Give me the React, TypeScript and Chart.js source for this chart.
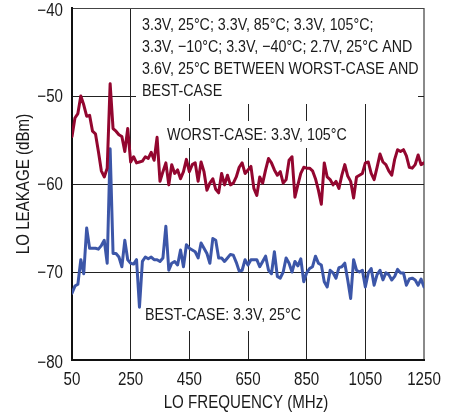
import React, { useEffect, useRef } from "react";
import { Chart, registerables } from "chart.js";

Chart.register(...registerables);

const FREQ_MHZ = [
  50, 60, 70, 80, 90, 100, 110, 120, 130, 140, 150, 160, 170, 180, 190, 200, 210, 220, 230, 240,
  250, 260, 270, 280, 290, 300, 310, 320, 330, 340, 350, 360, 370, 380, 390, 400, 410, 420, 430, 440,
  450, 460, 470, 480, 490, 500, 510, 520, 530, 540, 550, 560, 570, 580, 590, 600, 610, 620, 630, 640,
  650, 660, 670, 680, 690, 700, 710, 720, 730, 740, 750, 760, 770, 780, 790, 800, 810, 820, 830, 840,
  850, 860, 870, 880, 890, 900, 910, 920, 930, 940, 950, 960, 970, 980, 990, 1000, 1010, 1020, 1030, 1040,
  1050, 1060, 1070, 1080, 1090, 1100, 1110, 1120, 1130, 1140, 1150, 1160, 1170, 1180, 1190, 1200, 1210, 1220, 1230, 1240,
  1250,
];

const WORST_CASE_DBM = [
  -54.6, -52.5, -52.0, -50.0, -51.0, -52.3, -52.2, -54.0, -54.3, -56.3, -58.5, -59.2, -58.2, -48.6, -53.7, -54.0, -54.4, -54.6, -56.3, -53.7,
  -57.5, -56.9, -57.6, -57.5, -57.4, -56.9, -57.1, -56.4, -57.3, -54.7, -59.7, -58.6, -57.6, -60.1, -57.8, -58.8, -58.4, -59.4, -58.6, -57.2,
  -58.6, -57.8, -57.6, -59.7, -57.5, -58.6, -60.7, -59.9, -59.4, -60.6, -61.0, -58.8, -60.1, -59.0, -60.1, -59.9, -59.2, -58.1, -57.6, -58.8,
  -58.4, -58.0, -60.5, -61.3, -59.2, -59.9, -58.4, -57.1, -57.6, -58.4, -59.0, -58.6, -59.9, -59.5, -57.3, -56.9, -61.5, -60.1, -58.8, -58.1,
  -58.2, -58.2, -58.5, -59.4, -60.7, -62.3, -57.6, -59.2, -59.5, -60.1, -59.7, -60.5, -59.0, -57.8, -59.1, -59.7, -61.6, -59.2, -59.0, -58.8,
  -57.6, -57.5, -58.8, -59.5, -58.1, -56.6, -57.5, -57.8, -58.5, -59.0, -57.2, -56.1, -56.3, -56.1, -56.8, -58.1, -58.2, -57.8, -56.7, -57.8,
  -57.6,
];

const BEST_CASE_DBM = [
  -72.4, -71.6, -71.4, -68.6, -70.2, -65.0, -67.3, -67.3, -67.3, -67.4, -67.0, -66.4, -69.0, -56.0, -67.9, -67.9, -68.3, -69.4, -66.4, -68.6,
  -69.0, -69.1, -68.6, -74.0, -68.8, -68.3, -68.5, -68.3, -68.6, -68.6, -68.8, -68.4, -64.8, -69.8, -69.0, -68.8, -69.2, -67.5, -69.4, -66.9,
  -67.3, -67.5, -67.7, -68.4, -66.7, -67.3, -67.9, -69.0, -66.2, -66.4, -68.4, -68.4, -68.8, -68.4, -68.0, -68.1, -68.9, -69.9, -69.8, -68.6,
  -69.2, -68.6, -68.6, -68.6, -69.4, -68.8, -68.2, -69.8, -70.2, -67.7, -70.5, -70.7, -70.0, -68.4, -69.0, -70.0, -68.8, -69.3, -68.5, -71.1,
  -70.1, -69.6, -69.4, -68.2, -69.0, -69.2, -71.1, -71.7, -69.8, -70.1, -70.7, -69.5, -69.4, -69.0, -70.9, -73.0, -68.6, -69.8, -70.0, -69.8,
  -71.7, -70.1, -69.6, -71.5, -70.3, -69.8, -70.9, -70.1, -70.3, -70.9, -70.5, -69.7, -70.1, -70.1, -71.5, -70.8, -70.7, -70.9, -71.5, -70.8,
  -71.7,
];

const X_TICKS = [50, 250, 450, 650, 850, 1050, 1250];
const Y_TICKS = [-80, -70, -60, -50, -40];
const X_TITLE = "LO FREQUENCY (MHz)";
const Y_TITLE = "LO LEAKAGE (dBm)";

const NOTE_LINES = [
  "3.3V, 25°C; 3.3V, 85°C; 3.3V, 105°C;",
  "3.3V, \u221210°C; 3.3V, \u221240°C; 2.7V, 25°C AND",
  "3.6V, 25°C BETWEEN WORST-CASE AND",
  "BEST-CASE",
];
const WORST_LABEL = "WORST-CASE: 3.3V, 105°C";
const BEST_LABEL = "BEST-CASE: 3.3V, 25°C";

const FONT = "'Liberation Sans', Arial, sans-serif";
const NARROW = 0.84;
const RED = "#93062f";
const BLUE = "#3c56a8";
const INK = "#1a1a1a";

function narrowText(ctx: any, text: string, x: number, y: number, align: string, size: number, rot = 0) {
  ctx.save();
  ctx.translate(x, y);
  if (rot) ctx.rotate(rot);
  ctx.scale(NARROW, 1);
  ctx.font = `${size}px ${FONT}`;
  ctx.textAlign = align;
  ctx.textBaseline = "middle";
  ctx.fillStyle = INK;
  ctx.fillText(text, 0, 0);
  ctx.restore();
}

function narrowWidth(ctx: any, text: string, size: number) {
  ctx.save();
  ctx.font = `${size}px ${FONT}`;
  const w = ctx.measureText(text).width * NARROW;
  ctx.restore();
  return w;
}

const notesPlugin = {
  id: "notes",
  beforeDatasetsDraw(chart: any) {
    const { ctx, chartArea: a } = chart;
    ctx.save();
    // main note block
    ctx.fillStyle = "#fff";
    ctx.fillRect(a.left + 64, a.top + 1, a.right - a.left - 64 - 6, 95);
    NOTE_LINES.forEach((t, i) => narrowText(ctx, t, a.left + 70, a.top + 17.3 + i * 22, "left", 17));

    // worst-case label
    const wx = a.left + 95;
    const wy = a.top + 127;
    const ww = narrowWidth(ctx, WORST_LABEL, 17);
    ctx.fillStyle = "#fff";
    ctx.fillRect(wx - 5, wy - 14, ww + 10, 27);
    narrowText(ctx, WORST_LABEL, wx, wy, "left", 17);

    // best-case label
    const bx = a.left + 73;
    const by = a.top + 307;
    const bw = narrowWidth(ctx, BEST_LABEL, 17);
    ctx.fillStyle = "#fff";
    ctx.fillRect(bx - 5, by - 14, bw + 10, 30);
    narrowText(ctx, BEST_LABEL, bx, by, "left", 17);
    ctx.restore();
  },
  afterDraw(chart: any) {
    const { ctx, chartArea: a, scales } = chart;
    const xs = scales.x;
    const ys = scales.y;
    xs.ticks.forEach((t: any) => {
      narrowText(ctx, String(t.value), xs.getPixelForValue(t.value), a.bottom + 20, "center", 18);
    });
    ys.ticks.forEach((t: any) => {
      const v = t.value;
      const off = v === -40 || v === -80 ? 3 : 1;
      narrowText(ctx, String(v).replace("-", "\u2212"), a.left - 9, ys.getPixelForValue(v) + off, "right", 18);
    });
    narrowText(ctx, X_TITLE, (a.left + a.right) / 2 - 2, a.bottom + 43, "center", 18);
    narrowText(ctx, Y_TITLE, 24.5, (a.top + a.bottom) / 2, "center", 18, -Math.PI / 2);
  },
};

export default function App() {
  const ref = useRef<HTMLCanvasElement | null>(null);

  useEffect(() => {
    document.body.style.margin = "0";
    const canvas = ref.current;
    if (!canvas) return;
    const chart = new Chart(canvas, {
      type: "line",
      data: {
        datasets: [
          {
            label: WORST_LABEL,
            data: FREQ_MHZ.map((f, i) => ({ x: f, y: WORST_CASE_DBM[i] })),
            borderColor: RED,
            borderWidth: 3,
            pointRadius: 0,
            tension: 0,
            borderJoinStyle: "round",
            borderCapStyle: "round",
          },
          {
            label: BEST_LABEL,
            data: FREQ_MHZ.map((f, i) => ({ x: f, y: BEST_CASE_DBM[i] })),
            borderColor: BLUE,
            borderWidth: 3,
            pointRadius: 0,
            tension: 0,
            borderJoinStyle: "round",
            borderCapStyle: "round",
          },
        ],
      },
      options: {
        animation: false,
        responsive: false,
        devicePixelRatio: 1,
        layout: { padding: { top: 8, right: 32, bottom: 0, left: 0 } },
        plugins: { legend: { display: false }, tooltip: { enabled: false } },
        scales: {
          x: {
            type: "linear",
            min: 50,
            max: 1250,
            afterBuildTicks: (s: any) => {
              s.ticks = X_TICKS.map((v) => ({ value: v }));
            },
            afterFit: (s: any) => {
              s.height = 59;
              s.paddingLeft = 0;
              s.paddingRight = 0;
            },
            grid: {
              color: (c: any) => (c.tick && c.tick.value === 1250 ? "#8a8a8a" : "#222"),
              lineWidth: (c: any) => (c.tick && c.tick.value === 1250 ? 2 : 1),
              drawTicks: false,
            },
            border: { display: true, color: "#111", width: 2 },
            ticks: { display: false, autoSkip: false },
            title: { display: false, text: X_TITLE },
          },
          y: {
            type: "linear",
            min: -80,
            max: -40,
            afterBuildTicks: (s: any) => {
              s.ticks = Y_TICKS.map((v) => ({ value: v }));
            },
            afterFit: (s: any) => {
              s.width = 72;
              s.paddingTop = 0;
              s.paddingBottom = 0;
            },
            grid: {
              color: (c: any) => (c.tick && c.tick.value === -40 ? "#444" : "#222"),
              lineWidth: 1,
              drawTicks: false,
            },
            border: { display: true, color: "#111", width: 2 },
            ticks: { display: false, autoSkip: false },
            title: { display: false, text: Y_TITLE },
          },
        },
      },
      plugins: [notesPlugin],
    } as any);
    return () => chart.destroy();
  }, []);

  return (
    <div style={{ width: 456, height: 419 }}>
      <canvas ref={ref} width={456} height={419} style={{ display: "block" }} />
    </div>
  );
}
